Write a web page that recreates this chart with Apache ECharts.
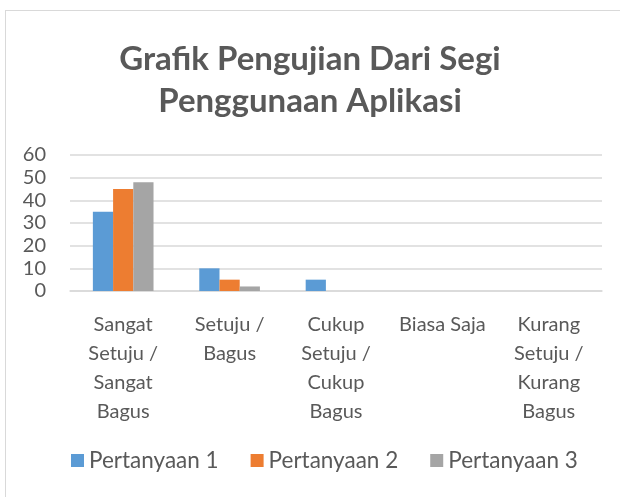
<!DOCTYPE html>
<html>
<head>
<meta charset="utf-8">
<script src="https://cdn.jsdelivr.net/npm/echarts@6/dist/echarts.min.js"></script>
<style>
html,body{margin:0;padding:0;background:#fff;}
#frame{position:absolute;left:5px;top:10px;width:620px;height:490px;border-left:1.5px solid #d9d9d9;border-top:1.5px solid #d9d9d9;}
#main{position:absolute;left:0;top:0;width:620px;height:497px;}
</style>
</head>
<body>
<div id="frame"></div>
<div id="main"></div>
<script>
// data
var kategori = ['Sangat\nSetuju /\nSangat\nBagus', 'Setuju /\nBagus', 'Cukup\nSetuju /\nCukup\nBagus', 'Biasa Saja', 'Kurang\nSetuju /\nKurang\nBagus'];
var pertanyaan1 = [35, 10, 5, 0, 0];
var pertanyaan2 = [45, 5, 0, 0, 0];
var pertanyaan3 = [48, 2, 0, 0, 0];
var namaSeri = ['Pertanyaan 1', 'Pertanyaan 2', 'Pertanyaan 3'];
var warna = ['#5B9BD5', '#ED7D31', '#A5A5A5'];

var myChart = echarts.init(document.getElementById('main'));
var font = 'Lato';
var option = {
    animation: false,
    color: warna,
    title: {
        text: 'Grafik Pengujian Dari Segi\nPenggunaan Aplikasi',
        left: 'center',
        top: 33,
        textStyle: {fontFamily: font, fontSize: 33, fontWeight: 'bold', color: '#595959', lineHeight: 42}
    },
    legend: {
        data: namaSeri,
        bottom: 20,
        left: 66,
        itemWidth: 13,
        itemHeight: 13,
        itemGap: 32,
        icon: 'rect',
        textStyle: {fontFamily: font, fontSize: 22.5, color: '#595959'}
    },
    grid: {left: 70, right: 18, top: 155, bottom: 206},
    xAxis: {
        type: 'category',
        data: kategori,
        axisLine: {lineStyle: {color: '#d9d9d9', width: 1.5}},
        axisTick: {show: false},
        axisLabel: {fontFamily: font, fontSize: 20, color: '#595959', lineHeight: 29, margin: 19, interval: 0}
    },
    yAxis: {
        type: 'value',
        min: 0,
        max: 60,
        interval: 10,
        axisLine: {show: false},
        axisTick: {show: false},
        axisLabel: {fontFamily: font, fontSize: 20, color: '#595959', margin: 24, align: 'right'},
        splitLine: {lineStyle: {color: '#d9d9d9', width: 1.5}}
    },
    series: [
        {name: namaSeri[0], type: 'bar', data: pertanyaan1, barGap: '0%', barCategoryGap: '43%'},
        {name: namaSeri[1], type: 'bar', data: pertanyaan2, barGap: '0%', barCategoryGap: '43%'},
        {name: namaSeri[2], type: 'bar', data: pertanyaan3, barGap: '0%', barCategoryGap: '43%'}
    ]
};
myChart.setOption(option);
</script>
</body>
</html>
